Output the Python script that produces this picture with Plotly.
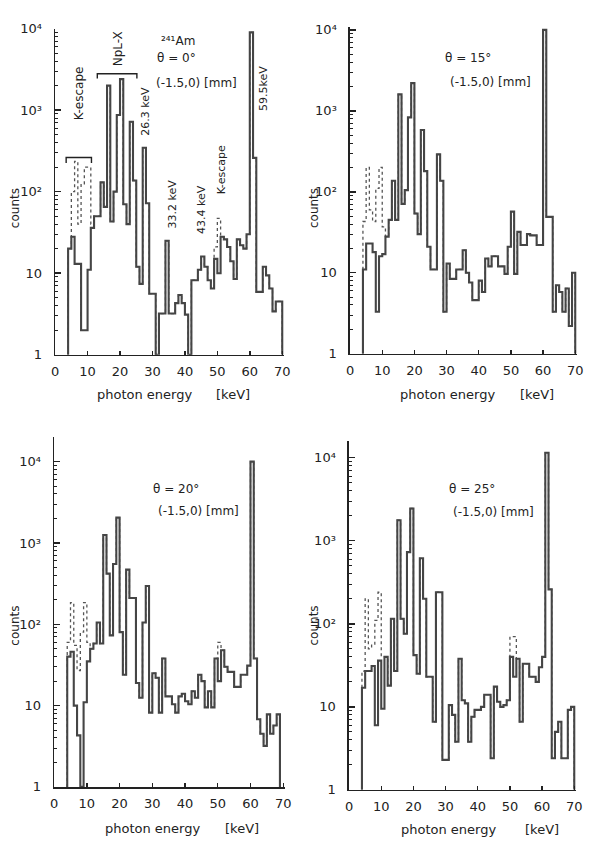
import plotly.graph_objects as go

W, H = 593, 846

# ---------------- data (counts per 1 keV bin, bins start at 4 keV) ----------------
bin_lo_keV = list(range(4, 70))

counts_0deg = [20, 28, 13, 13, 2, 2, 11, 36, 50, 50, 130, 65, 2000, 43, 100, 870, 2400, 70, 40, 720,
               137, 12, 7.4, 345, 72, 5.6, 5.6, 1, 3.2, 3.2, 25, 3.2, 3.2, 4.3, 5.4, 4.3, 3.1, 1, 8.2, 8.2,
               11, 16, 12, 8.2, 6.5, 15, 10, 28, 26, 21, 14, 8.5, 26, 22, 20, 30, 9000, 260, 5.9, 5.9,
               12, 9.4, 6.5, 3.4, 4.5, 4.5]
escape_0deg = {5: 100, 6: 235, 7: 40, 8: 125, 9: 200, 10: 200, 11: 40, 49: 21, 50: 47}

counts_15deg = [11, 23, 23, 18, 3.3, 16, 17, 28, 45, 137, 45, 1600, 71, 105, 830, 2200, 54, 30, 580, 180,
                21, 11, 11, 290, 137, 3.3, 13, 8.4, 8.4, 11, 11, 19, 10, 7.6, 4.6, 4.6, 8, 5.8, 15, 12,
                16, 16, 12, 12, 9.7, 21, 57, 9.7, 32, 22, 22, 30, 29, 29, 22, 22, 10000, 49, 49, 3.3,
                7, 5.8, 3.3, 6.4, 2.2, 10]
escape_15deg = {4: 43, 5: 200, 6: 60, 7: 43, 8: 110, 9: 200, 10: 37}

counts_20deg = [40, 46, 10, 4.3, 1, 11, 35, 50, 58, 105, 58, 1250, 420, 73, 550, 2050, 80, 24, 470, 210,
                210, 19, 12.5, 105, 295, 8.2, 25, 22, 8.2, 38, 13, 13, 10.4, 8.2, 13, 14, 11.3, 10.4, 15, 12.5,
                24, 20, 9.5, 15, 9.5, 38, 20, 48, 30, 26, 26, 17, 17, 24, 24, 31, 10000, 38, 6.8, 4.5,
                3.2, 7.8, 4.5, 5.7, 7.8]
escape_20deg = {4: 60, 5: 185, 6: 55, 7: 27, 8: 80, 9: 185, 10: 60, 50: 60}

counts_25deg = [17, 27, 27, 31, 6, 36, 9.5, 40, 18, 115, 27, 1770, 115, 76, 730, 2450, 42, 25, 615, 200,
                23, 23, 6.6, 240, 240, 2.3, 2.3, 10.5, 8, 3.8, 38, 12, 11, 3.8, 7.6, 9.2, 9.2, 10, 14, 14,
                2.4, 17.5, 11.5, 10, 10.5, 12, 40, 23, 38, 6.6, 33, 33, 23, 23, 20, 30, 40, 11500, 260, 2.4,
                5, 6.6, 2.4, 2.4, 9.2, 10]
escape_25deg = {4: 27, 5: 200, 6: 50, 7: 57, 8: 110, 9: 240, 10: 40, 50: 70, 51: 70}

x_ticks = [0, 10, 20, 30, 40, 50, 60, 70]
y_ticks = [1, 10, 100, 1000, 10000]
y_ticktext = ["1", "10", "10²", "10³", "10⁴"]
y_minor = [m * 10 ** d for d in range(0, 4) for m in range(2, 10)] + [20000]

panels = [
    dict(counts=counts_0deg, escape=escape_0deg, theta="θ = 0°"),
    dict(counts=counts_15deg, escape=escape_15deg, theta="θ = 15°"),
    dict(counts=counts_20deg, escape=escape_20deg, theta="θ = 20°"),
    dict(counts=counts_25deg, escape=escape_25deg, theta="θ = 25°"),
]

# ---------------- layout geometry (pixels) ----------------
# (x of 0 keV, x of right end, y of count 1, y of top, log top)
geom = [
    (52, 285, 354, 22, 4.0),
    (352, 583, 353, 20, 4.04),
    (51, 286, 794, 438, 4.3),
    (351, 582, 797, 442, 4.2),
]

FONT = "DejaVu Sans"
INK = "#222222"
LINE = "#454545"


def steps(lo, vals, hi):
    xs = [lo[0]] + list(lo[:len(vals)]) + [hi]
    ys = [1] + list(vals) + [1]
    return xs, ys


fig = go.Figure()
layout = dict(
    width=W, height=H, margin=dict(l=0, r=0, t=0, b=0),
    paper_bgcolor="white", plot_bgcolor="rgba(0,0,0,0)",
    showlegend=False, font=dict(family=FONT, color=INK, size=12),
)

annotations = []
for i, (p, g) in enumerate(zip(panels, geom)):
    n = "" if i == 0 else str(i + 1)
    xa, ya = "x" + n, "y" + n
    x0, x1, yb, yt, ltop = g
    counts = p["counts"]
    n_bins = len(counts)
    end = bin_lo_keV[n_bins - 1] + 1
    esc = [p["escape"].get(b, c) for b, c in zip(bin_lo_keV, counts)]

    xs, ys = steps(bin_lo_keV, esc, end)
    fig.add_trace(go.Scatter(x=xs, y=ys, mode="lines", line_shape="hv",
                             line=dict(color="#555555", width=1.3, dash="dot"),
                             xaxis=xa, yaxis=ya, hoverinfo="skip"))
    xs, ys = steps(bin_lo_keV, counts, end)
    fig.add_trace(go.Scatter(x=xs, y=ys, mode="lines", line_shape="hv",
                             line=dict(color=LINE, width=2.1),
                             xaxis=xa, yaxis=ya, hoverinfo="skip"))

    layout["xaxis" + n] = dict(
        domain=[x0 / W, x1 / W], range=[0, 70.6], anchor=ya,
        showline=True, linecolor=INK, linewidth=1.6, mirror=False,
        ticks="inside", ticklen=4, tickwidth=1.4, tickcolor=INK,
        tickvals=x_ticks, ticktext=[str(v) for v in x_ticks],
        tickfont=dict(size=13, family=FONT, color=INK), ticklabelstandoff=4,
        ticklabeloverflow="allow",
        showgrid=False, zeroline=False,
    )
    layout["yaxis" + n] = dict(
        domain=[1 - yb / H, 1 - yt / H], type="log", range=[0, ltop], anchor=xa,
        showline=True, linecolor=INK, linewidth=1.6,
        ticks="inside", ticklen=6, tickwidth=1.4, tickcolor=INK,
        tickmode="array", tickvals=y_ticks, ticktext=y_ticktext,
        tickfont=dict(size=13, family=FONT, color=INK), ticklabelstandoff=9,
        ticklabeloverflow="allow",
        minor=dict(ticks="inside", ticklen=3, tickwidth=1, tickcolor=INK,
                   tickmode="array", tickvals=y_minor, showgrid=False),
        showgrid=False, zeroline=False,
    )


def ann(px, py, text, size=12, angle=0, xanchor="center"):
    annotations.append(dict(x=px / W, y=1 - py / H, xref="paper", yref="paper",
                            text=text, showarrow=False, textangle=angle,
                            xanchor=xanchor, yanchor="middle",
                            font=dict(family=FONT, size=size, color=INK)))


# axis titles
for cx, cy in [(12, 205), (316, 205), (11, 630), (315, 630)]:
    ann(cx, cy, "counts", 12, -90)
for cx, ck, cy in [(143, 233, 395), (451, 542, 394), (151, 242, 836), (452, 547, 837)]:
    ann(cx, cy, "photon energy", 13)
    ann(ck, cy, "[keV]", 13)

# panel texts
ann(177, 35, "²⁴¹Am", 12)
ann(175, 52, "θ = 0°", 12)
ann(196, 77, "(-1.5,0) [mm]", 12)
ann(472, 52, "θ = 15°", 12)
ann(495, 76, "(-1.5,0) [mm]", 12)
ann(175, 491, "θ = 20°", 12)
ann(198, 513, "(-1.5,0) [mm]", 12)
ann(476, 491, "θ = 25°", 12)
ann(498, 514, "(-1.5,0) [mm]", 12)

# peak labels panel 1
ann(116, 43, "NpL-X", 12, -90)
ann(77, 88, "K-escape", 12, -90)
ann(144, 106, "26.3 keV", 11, -90)
ann(264, 83, "59.5keV", 11, -90)
ann(171, 201, "33.2 keV", 11, -90)
ann(201, 206, "43.4 keV", 11, -90)
ann(221, 166, "K-escape", 11, -90)

# brackets (data coordinates of panel 1)
bracket_npl_keV = [13.0, 13.0, 25.2, 25.2]
bracket_npl_cnt = [2450, 2800, 2800, 2450]
bracket_kesc_keV = [3.4, 3.4, 11.2, 11.2]
bracket_kesc_cnt = [225, 262, 262, 225]
for bx, by in [(bracket_npl_keV, bracket_npl_cnt), (bracket_kesc_keV, bracket_kesc_cnt)]:
    fig.add_trace(go.Scatter(x=bx, y=by, mode="lines", line=dict(color=INK, width=1.4),
                             xaxis="x", yaxis="y", hoverinfo="skip"))

layout["annotations"] = annotations
fig.update_layout(**layout)
fig.write_html(
    "out.html",
    config={"displayModeBar": False, "staticPlot": True},
    post_script="document.body.style.margin='0';document.body.style.overflow='hidden';",
)
